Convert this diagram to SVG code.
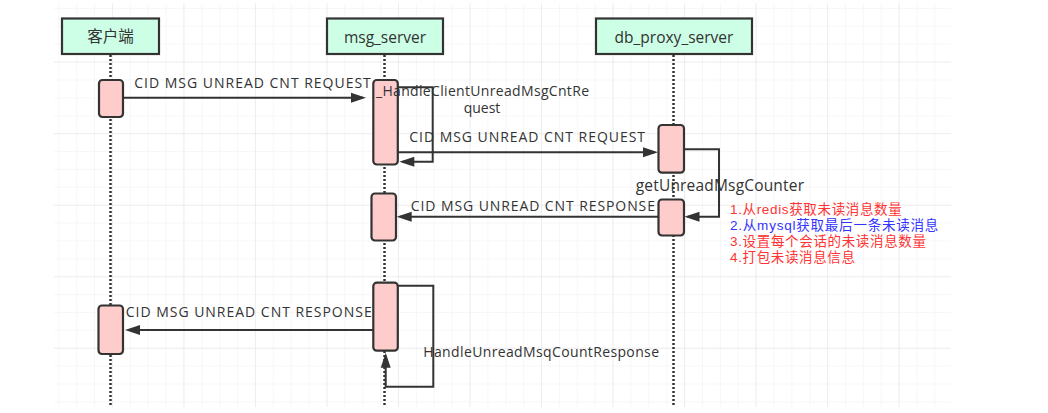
<svg xmlns="http://www.w3.org/2000/svg" width="1048" height="413" viewBox="0 0 1048 413">
  <defs>
    <pattern id="gMinor" patternUnits="userSpaceOnUse" x="58.3" y="8" width="17.88" height="17.88">
      <path d="M0,0 V17.88 M0,0 H17.88" fill="none" stroke="#F0F0F0" stroke-width="1"/>
    </pattern>
    <pattern id="gMajor" patternUnits="userSpaceOnUse" x="111.9" y="61.7" width="71.52" height="71.52">
      <path d="M0,0 V71.52 M0,0 H71.52" fill="none" stroke="#E4E4E4" stroke-width="1"/>
    </pattern>
    <marker id="arr" markerUnits="userSpaceOnUse" markerWidth="16" markerHeight="12" refX="12" refY="5" orient="auto" overflow="visible">
      <path d="M0,0 L15,5 L0,10 z" fill="#333"/>
    </marker>
    <style>
      .hdr { fill: #CCFFE6; stroke: #333; stroke-width: 2.2; }
      .act { fill: #FFCCCC; stroke: #333; stroke-width: 2.2; }
      .life { stroke: #333; stroke-width: 2.5; stroke-dasharray: 2 2; fill: none; }
      .con { stroke: #333; stroke-width: 2; fill: none; }
      .t { font-family: "Open Sans", "Noto Sans CJK SC", sans-serif; fill: #333; font-size: 14px; }
      .h { font-family: "Open Sans", "Noto Sans CJK SC", sans-serif; fill: #333; font-size: 15.5px; text-anchor: middle; }
      .n { font-family: "Liberation Sans", "Noto Sans CJK SC", sans-serif; font-size: 13.5px; }
    </style>
  </defs>
  <rect x="0" y="0" width="1048" height="413" fill="#FFFFFF"/>
  <rect x="54" y="3" width="897" height="404" fill="url(#gMinor)"/>
  <rect x="54" y="3" width="897" height="404" fill="url(#gMajor)"/>

  <g id="client">
    <line class="life" x1="110.5" y1="55" x2="110.5" y2="407"/>
    <rect class="hdr" x="62" y="18.5" width="97" height="35.5"/>
    <text class="h" x="110.5" y="42">客户端</text>
  </g>
  <g id="msg_server">
    <line class="life" x1="384.5" y1="55" x2="384.5" y2="407"/>
    <rect class="hdr" x="327" y="18.5" width="116" height="35.5"/>
    <text class="h" x="385" y="42.5">msg_server</text>
  </g>
  <g id="db_proxy_server">
    <line class="life" x1="673.5" y1="55" x2="673.5" y2="407"/>
    <rect class="hdr" x="596" y="18.5" width="156" height="35.5"/>
    <text class="h" x="674" y="42.5">db_proxy_server</text>
  </g>

  <g id="act_client_1"><rect class="act" x="99" y="80" width="24" height="37" rx="3.5"/></g>
  <g id="act_client_2"><rect class="act" x="98.5" y="305.5" width="24.5" height="48.5" rx="3.5"/></g>
  <g id="act_msg_1"><rect class="act" x="373.3" y="80" width="24.5" height="84.5" rx="3.5"/></g>
  <g id="act_msg_2"><rect class="act" x="371.5" y="193.5" width="24.5" height="47" rx="3.5"/></g>
  <g id="act_msg_3"><rect class="act" x="373.3" y="282.7" width="24.5" height="68" rx="3.5"/></g>
  <g id="act_db_1"><rect class="act" x="658.5" y="125" width="25.5" height="47.7" rx="3.5"/></g>
  <g id="act_db_2"><rect class="act" x="658.5" y="199.5" width="25.5" height="36" rx="3.5"/></g>

  <g id="connectors">
    <path class="con" d="M123,97.7 H363" marker-end="url(#arr)"/>
    <path class="con" d="M398,87.3 H432.7 V161.7 H402.3" marker-end="url(#arr)"/>
    <path class="con" d="M398,152.3 H655" marker-end="url(#arr)"/>
    <path class="con" d="M684,149.3 H719 V216.7 H687.5" marker-end="url(#arr)"/>
    <path class="con" d="M658.5,216.7 H399.7" marker-end="url(#arr)"/>
    <path class="con" d="M373.3,330 H128" marker-end="url(#arr)"/>
    <path class="con" d="M397.7,285.7 H433.3 V386.7 H385.7 V355.7" marker-end="url(#arr)"/>
  </g>

  <g id="labels">
    <text class="t" x="134.3" y="88.3" textLength="236.5">CID MSG UNREAD CNT REQUEST</text>
    <text class="t" x="376" y="96" textLength="213">_HandleClientUnreadMsgCntRe</text>
    <text class="t" x="482" y="113.3" text-anchor="middle">quest</text>
    <text class="t" x="409.3" y="141.7" textLength="235.7">CID MSG UNREAD CNT REQUEST</text>
    <text class="t" x="635.7" y="190.5" style="font-size:15.5px" textLength="168.3">getUnreadMsgCounter</text>
    <text class="t" x="410.7" y="210.5" textLength="244.3">CID MSG UNREAD CNT RESPONSE</text>
    <text class="t" x="125.7" y="316.7" textLength="246">CID MSG UNREAD CNT RESPONSE</text>
    <text class="t" x="423.3" y="356.7" textLength="235.7">HandleUnreadMsqCountResponse</text>
    <text class="n" x="730" y="214.3" fill="#FF3333" textLength="171.7">1.从redis获取未读消息数量</text>
    <text class="n" x="730" y="230.3" fill="#3333FF" textLength="208.3">2.从mysql获取最后一条未读消息</text>
    <text class="n" x="730" y="246.3" fill="#FF3333" textLength="196">3.设置每个会话的未读消息数量</text>
    <text class="n" x="730" y="262.3" fill="#FF3333" textLength="125">4.打包未读消息信息</text>
  </g>
</svg>
